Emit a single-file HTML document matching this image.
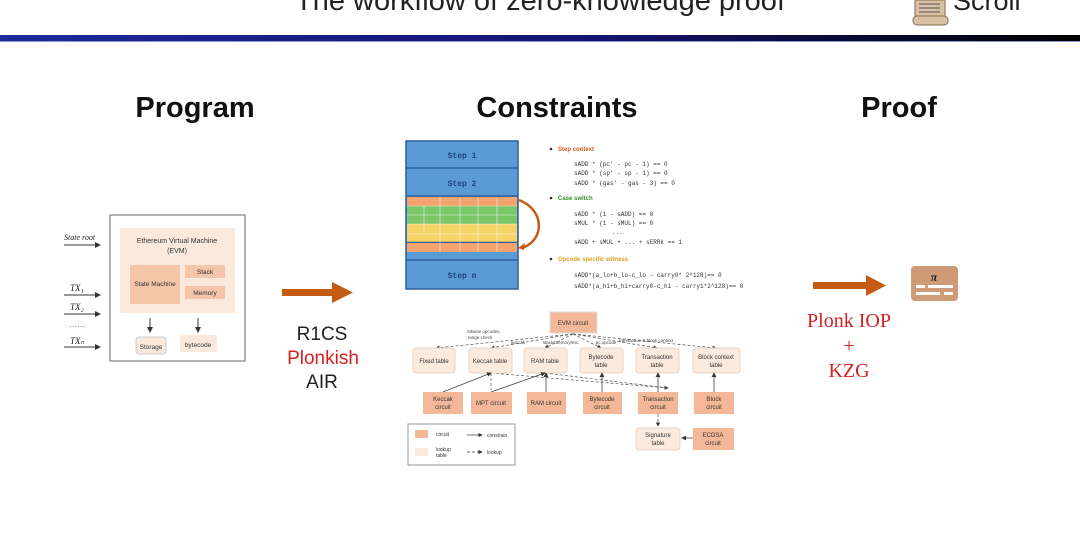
<!DOCTYPE html>
<html><head><meta charset="utf-8"><style>
html,body{margin:0;padding:0;background:#fff;width:1080px;height:548px;overflow:hidden}
svg{display:block}
text{font-family:"Liberation Sans",sans-serif}
.serif{font-family:"Liberation Serif",serif}
.mono{font-family:"Liberation Mono",monospace}
</style></head><body>
<svg width="1080" height="548" viewBox="0 0 1080 548" xmlns="http://www.w3.org/2000/svg">
<defs>
<linearGradient id="bar" x1="0" x2="1"><stop offset="0" stop-color="#1c2a9a"/><stop offset="0.55" stop-color="#141470"/><stop offset="1" stop-color="#000"/></linearGradient>
<marker id="ah" markerWidth="6" markerHeight="6" refX="5" refY="3" orient="auto"><path d="M0,0L6,3L0,6z" fill="#333"/></marker>
</defs>
<text x="540" y="10" font-size="29" text-anchor="middle" fill="#222">The workflow of zero-knowledge proof</text>
<rect x="915" y="0" width="30" height="16" fill="#d9bfa3" stroke="#8a6d50"/>
<line x1="919" y1="4" x2="940" y2="4" stroke="#555"/><line x1="919" y1="8" x2="940" y2="8" stroke="#555"/><line x1="919" y1="12" x2="940" y2="12" stroke="#555"/>
<rect x="913" y="16" width="35" height="9" rx="4" fill="#d9bfa3" stroke="#8a6d50"/>
<text x="953" y="10" font-size="27" fill="#222">Scroll</text>
<rect x="0" y="35" width="1080" height="6" fill="url(#bar)"/>
<rect x="0" y="41" width="1080" height="1" fill="#8899cc"/>

<text x="195" y="117" font-size="29" font-weight="bold" text-anchor="middle" fill="#111">Program</text>
<text x="557" y="117" font-size="29" font-weight="bold" text-anchor="middle" fill="#111">Constraints</text>
<text x="899" y="117" font-size="29" font-weight="bold" text-anchor="middle" fill="#111">Proof</text>

<!-- Program -->
<rect x="110" y="215" width="135" height="146" fill="#fff" stroke="#666"/>
<rect x="120" y="228" width="115" height="85" fill="#fbe9dc"/>
<text x="177" y="243" font-size="7" text-anchor="middle" fill="#333">Ethereum Virtual Machine</text>
<text x="177" y="253" font-size="7" text-anchor="middle" fill="#333">(EVM)</text>
<rect x="130" y="265" width="50" height="39" fill="#f4c5a8"/>
<text x="155" y="286" font-size="6.5" text-anchor="middle" fill="#333">State Machine</text>
<rect x="185" y="265" width="40" height="13" fill="#f4c5a8"/>
<text x="205" y="274" font-size="6.5" text-anchor="middle" fill="#333">Stack</text>
<rect x="185" y="286" width="40" height="13" fill="#f4c5a8"/>
<text x="205" y="295" font-size="6.5" text-anchor="middle" fill="#333">Memory</text>
<line x1="150" y1="318" x2="150" y2="332" stroke="#333" marker-end="url(#ah)"/>
<line x1="198" y1="318" x2="198" y2="332" stroke="#333" marker-end="url(#ah)"/>
<rect x="136" y="337" width="30" height="17" rx="3" fill="#fbe9dc" stroke="#ccc"/>
<text x="151" y="349" font-size="6.5" text-anchor="middle" fill="#333">Storage</text>
<rect x="180" y="335" width="37" height="17" fill="#fbe9dc"/>
<text x="198" y="347" font-size="6.5" text-anchor="middle" fill="#333">bytecode</text>
<text x="64" y="240" font-size="8" font-style="italic" fill="#222" class="serif">State root</text>
<line x1="64" y1="245" x2="100" y2="245" stroke="#333" marker-end="url(#ah)"/>
<text x="70" y="291" font-size="9" font-style="italic" fill="#222" class="serif">TX₁</text>
<line x1="64" y1="295" x2="100" y2="295" stroke="#333" marker-end="url(#ah)"/>
<text x="70" y="310" font-size="9" font-style="italic" fill="#222" class="serif">TX₂</text>
<line x1="64" y1="314" x2="100" y2="314" stroke="#333" marker-end="url(#ah)"/>
<text x="69" y="327" font-size="8" fill="#555">……</text>
<text x="70" y="344" font-size="9" font-style="italic" fill="#222" class="serif">TXₙ</text>
<line x1="64" y1="347" x2="100" y2="347" stroke="#333" marker-end="url(#ah)"/>

<!-- arrow 1 -->
<rect x="282" y="289" width="52" height="7" fill="#c55a11"/>
<path d="M332,282L353,292.5L332,303z" fill="#c55a11"/>
<text x="322" y="340" font-size="19" text-anchor="middle" fill="#222">R1CS</text>
<text x="323" y="364" font-size="19" text-anchor="middle" fill="#d42020">Plonkish</text>
<text x="322" y="388" font-size="19" text-anchor="middle" fill="#222">AIR</text>

<!-- step table -->
<rect x="406" y="141" width="112" height="148" fill="#5b9bd5" stroke="#2e5f9e" stroke-width="1.5"/>
<line x1="406" y1="168" x2="518" y2="168" stroke="#2e5f9e" stroke-width="1.5"/>
<line x1="406" y1="196" x2="518" y2="196" stroke="#2e5f9e" stroke-width="1.5"/>
<line x1="406" y1="260" x2="518" y2="260" stroke="#2e5f9e" stroke-width="1.5"/>
<text x="462" y="158" font-size="8" text-anchor="middle" fill="#1f3f80" class="mono" font-weight="bold">Step 1</text>
<text x="462" y="186" font-size="8" text-anchor="middle" fill="#1f3f80" class="mono" font-weight="bold">Step 2</text>
<text x="462" y="278" font-size="8" text-anchor="middle" fill="#1f3f80" class="mono" font-weight="bold">Step n</text>
<rect x="407" y="197" width="110" height="9" fill="#f4a36f"/>
<rect x="407" y="206" width="110" height="18" fill="#7cc66a"/>
<rect x="407" y="224" width="110" height="18" fill="#f7d468"/>
<line x1="406" y1="242.5" x2="518" y2="242.5" stroke="#2e5f9e" stroke-width="1.5"/>
<rect x="407" y="243" width="110" height="9" fill="#f4a36f"/>
<g stroke="#fff" stroke-width="0.6" opacity="0.8">
<line x1="440" y1="197" x2="440" y2="252"/><line x1="460" y1="197" x2="460" y2="252"/><line x1="478" y1="197" x2="478" y2="252"/><line x1="497" y1="197" x2="497" y2="252"/><line x1="424" y1="206" x2="424" y2="234"/>
<line x1="407" y1="206" x2="517" y2="206"/><line x1="407" y1="215" x2="517" y2="215"/><line x1="407" y1="224" x2="517" y2="224"/><line x1="407" y1="234" x2="517" y2="234"/>
</g>
<path d="M519,200 C545,210 545,240 522,248" stroke="#c55a11" stroke-width="2.5" fill="none"/>
<path d="M518,248l7,-5l-1,7z" fill="#c55a11"/>
<g font-size="6" fill="#333">
<circle cx="551" cy="149" r="1.3" fill="#333"/><text x="558" y="151" fill="#d05a20" font-weight="bold">Step context</text>
<text x="574" y="166" class="mono">sADD * (pc' - pc - 1) == 0</text>
<text x="574" y="175" class="mono">sADD * (sp' - sp - 1) == 0</text>
<text x="574" y="185" class="mono">sADD * (gas' - gas - 3) == 0</text>
<circle cx="551" cy="198" r="1.3" fill="#333"/><text x="558" y="200" fill="#3a8a2a" font-weight="bold">Case switch</text>
<text x="574" y="216" class="mono">sADD * (1 - sADD) == 0</text>
<text x="574" y="225" class="mono">sMUL * (1 - sMUL) == 0</text>
<text x="612" y="234" class="mono">...</text>
<text x="574" y="244" class="mono">sADD + sMUL + ... + sERRk == 1</text>
<circle cx="551" cy="259" r="1.3" fill="#333"/><text x="558" y="261" fill="#d9a020" font-weight="bold">Opcode specific witness</text>
<text x="574" y="277" class="mono">sADD*(a_lo+b_lo-c_lo - carry0* 2^128)== 0</text>
<text x="574" y="288" class="mono">sADD*(a_hi+b_hi+carry0-c_hi - carry1*2^128)== 0</text>
</g>

<!-- circuit diagram -->
<g font-size="6" text-anchor="middle" fill="#333">
<rect x="550" y="312" width="47" height="21" fill="#f4b899" stroke="#ddd"/><text x="573" y="325">EVM circuit</text>
<g stroke="#555" stroke-width="0.7" stroke-dasharray="3,2" fill="none">
<path d="M573,334L436,348" marker-end="url(#ah)"/><path d="M573,334L491,348" marker-end="url(#ah)"/><path d="M573,334L545,348" marker-end="url(#ah)"/><path d="M573,334L601,348" marker-end="url(#ah)"/><path d="M573,334L657,348" marker-end="url(#ah)"/><path d="M573,334L716,348" marker-end="url(#ah)"/>
<path d="M491,373L668,388" marker-end="url(#ah)"/><path d="M545,373L668,388"/><path d="M491,373L491,390"/><path d="M658,414L658,426" marker-end="url(#ah)"/>
</g>
<g font-size="4.5" fill="#444"><text x="484" y="333">bitwise opcodes,</text><text x="480" y="339">range check</text><text x="518" y="344">keccak</text><text x="561" y="344">stack/memory/etc.</text><text x="606" y="344">pc,opcode</text><text x="646" y="342">transaction &amp; block context</text></g>
<g fill="#fcebdc" stroke="#e6d6c6">
<rect x="413" y="348" width="42" height="25" rx="3"/><rect x="469" y="348" width="43" height="25" rx="3"/><rect x="524" y="348" width="43" height="25" rx="3"/><rect x="580" y="348" width="43" height="25" rx="3"/><rect x="636" y="348" width="43" height="25" rx="3"/><rect x="693" y="348" width="47" height="25" rx="3"/>
<rect x="636" y="428" width="44" height="22" rx="3"/>
</g>
<text x="434" y="363">Fixed table</text><text x="490" y="363">Keccak table</text><text x="545" y="363">RAM table</text><text x="601" y="359">Bytecode</text><text x="601" y="367">table</text><text x="657" y="359">Transaction</text><text x="657" y="367">table</text><text x="716" y="359">Block context</text><text x="716" y="367">table</text>
<text x="658" y="437">Signature</text><text x="658" y="445">table</text>
<g stroke="#444" stroke-width="0.8" fill="none">
<path d="M443,392L491,373" marker-end="url(#ah)"/><path d="M491,392L545,373" marker-end="url(#ah)"/><path d="M546,392L546,373" marker-end="url(#ah)"/><path d="M602,392L602,373" marker-end="url(#ah)"/><path d="M658,392L658,373" marker-end="url(#ah)"/><path d="M714,392L714,373" marker-end="url(#ah)"/><path d="M693,438L682,438" marker-end="url(#ah)"/>
</g>
<g fill="#f4b899">
<rect x="423" y="392" width="40" height="22"/><rect x="471" y="392" width="41" height="22"/><rect x="527" y="392" width="39" height="22"/><rect x="583" y="392" width="39" height="22"/><rect x="638" y="392" width="40" height="22"/><rect x="694" y="392" width="40" height="22"/><rect x="693" y="428" width="41" height="22"/>
</g>
<text x="443" y="401">Keccak</text><text x="443" y="409">circuit</text><text x="491" y="405">MPT circuit</text><text x="546" y="405">RAM circuit</text><text x="602" y="401">Bytecode</text><text x="602" y="409">circuit</text><text x="658" y="401">Transaction</text><text x="658" y="409">circuit</text><text x="714" y="401">Block</text><text x="714" y="409">circuit</text><text x="713" y="437">ECDSA</text><text x="713" y="445">circuit</text>
<rect x="408" y="424" width="107" height="41" fill="#fff" stroke="#999"/>
<rect x="415" y="430" width="13" height="8" fill="#f4b899"/><rect x="415" y="448" width="13" height="8" fill="#fcebdc"/>
<text x="436" y="436" text-anchor="start" font-size="5">circuit</text><text x="436" y="451" text-anchor="start" font-size="5">lookup</text><text x="436" y="457" text-anchor="start" font-size="5">table</text>
<line x1="467" y1="435" x2="482" y2="435" stroke="#333" stroke-width="0.7" marker-end="url(#ah)"/><text x="487" y="437" text-anchor="start" font-size="5">constrain</text>
<line x1="467" y1="452" x2="482" y2="452" stroke="#333" stroke-width="0.7" stroke-dasharray="3,2" marker-end="url(#ah)"/><text x="487" y="454" text-anchor="start" font-size="5">lookup</text>
</g>

<!-- proof -->
<rect x="813" y="282" width="55" height="7" fill="#c55a11"/>
<path d="M866,275L886,285.5L866,296z" fill="#c55a11"/>
<rect x="911" y="266" width="47" height="35" rx="4" fill="#cf9a76"/>
<text x="934" y="281" font-size="12" font-weight="bold" font-style="italic" text-anchor="middle" fill="#222" class="serif">π</text>
<rect x="916" y="285" width="9" height="3" fill="#fff"/><rect x="928" y="285" width="25" height="3" fill="#fff"/>
<rect x="916" y="292" width="24" height="3" fill="#fff"/><rect x="944" y="292" width="9" height="3" fill="#fff"/>
<text x="849" y="327" font-size="20" text-anchor="middle" fill="#d42020" class="serif">Plonk IOP</text>
<text x="849" y="352" font-size="20" text-anchor="middle" fill="#d42020" class="serif">+</text>
<text x="849" y="377" font-size="20" text-anchor="middle" fill="#d42020" class="serif">KZG</text>
</svg>
</body></html>
